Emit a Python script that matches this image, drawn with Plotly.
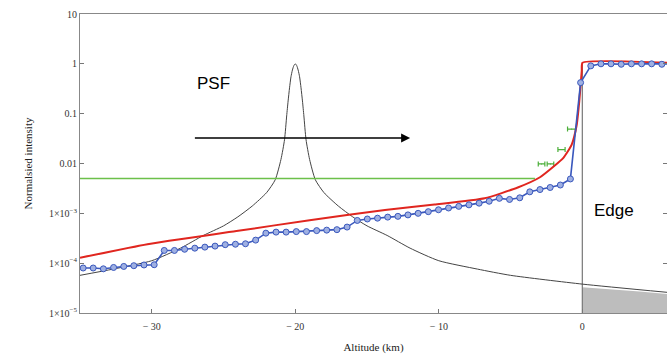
import plotly.graph_objects as go

# ---------------- data ----------------
psf_x = [-35, -32.7, -30, -28, -26.4, -25, -24, -23, -22, -21.4, -21.0, -20.75, -20.6, -20.5,
         -20.4, -20.3, -20.2, -20.1, -20.0, -19.9, -19.8, -19.7, -19.6, -19.5, -19.4, -19.25,
         -19.0, -18.6, -18.0, -17.0, -16.0, -15.0, -13.6, -12.0, -10.0, -7.3, -5.0, 0.0, 5.9]
psf_y = [5.7e-5, 7.6e-5, 1.12e-4, 2.0e-4, 3.6e-4, 5.6e-4, 8.5e-4, 1.4e-3, 2.6e-3, 4.7e-3, 1.2e-2,
         3.0e-2, 9.0e-2, 0.18, 0.33, 0.55, 0.75, 0.92, 1.0, 0.92, 0.75, 0.55, 0.33, 0.18, 0.09,
         3.0e-2, 1.2e-2, 4.7e-3, 2.6e-3, 1.4e-3, 8.5e-4, 5.6e-4, 3.6e-4, 2.0e-4, 1.12e-4, 7.6e-5,
         5.7e-5, 3.8e-5, 2.6e-5]

model_x = [-35.0, -30.3, -24.1, -19.0, -13.75, -10.3, -6.8, -4.5, -2.95, -2.0, -1.32, -0.74,
           -0.39, -0.21, -0.04, 0.01, 5.9]
model_y = [1.28e-4, 2.4e-4, 4.4e-4, 7.3e-4, 1.17e-3, 1.5e-3, 2.0e-3, 3.3e-3, 5.3e-3, 8.7e-3,
           0.013, 0.024, 0.06, 0.18, 0.72, 1.05, 1.05]

meas_x = [-34.78, -34.08, -33.37, -32.66, -31.95, -31.25, -30.54, -29.83, -29.13, -28.42,
          -27.71, -27.00, -26.30, -25.59, -24.88, -24.17, -23.47, -22.76, -22.05, -21.34,
          -20.64, -19.93, -19.22, -18.51, -17.81, -17.10, -16.39, -15.68, -14.98, -14.27,
          -13.56, -12.85, -12.15, -11.44, -10.73, -10.02, -9.32, -8.61, -7.90, -7.19,
          -6.49, -5.78, -5.07, -4.36, -3.66, -2.95, -2.24, -1.53, -0.83, -0.12,
          0.59, 1.30, 2.00, 2.71, 3.42, 4.13, 4.83, 5.54, 6.25]
meas_y = [8.0e-5, 8.0e-5, 7.7e-5, 8.2e-5, 8.6e-5, 8.9e-5, 9.2e-5, 9.3e-5,
          1.8e-4, 1.8e-4, 1.9e-4, 2.0e-4, 2.1e-4, 2.2e-4, 2.35e-4, 2.4e-4, 2.45e-4, 2.9e-4,
          4.0e-4, 4.2e-4, 4.2e-4, 4.3e-4, 4.3e-4, 4.5e-4, 4.6e-4, 4.7e-4, 5.3e-4,
          7.2e-4, 7.7e-4, 8.0e-4, 8.4e-4, 8.7e-4, 9.3e-4, 1.0e-3, 1.08e-3, 1.18e-3, 1.28e-3,
          1.38e-3, 1.48e-3, 1.6e-3, 1.75e-3, 2.0e-3, 1.9e-3, 2.05e-3, 2.7e-3, 3.0e-3, 3.3e-3,
          3.7e-3, 4.9e-3,
          0.42, 0.91, 1.0, 1.0, 0.98, 1.0, 1.0, 1.0, 0.98, 1.0]

thresh_x = [-35, -3.3]
thresh_y = [0.005, 0.005]

cross_x = [-2.84, -2.22, -1.45, -0.75]
cross_y = [0.0098, 0.0098, 0.019, 0.049]
cross_err = [0.23, 0.23, 0.25, 0.28]

tail_x = [0.0, 2.0, 4.0, 5.9]
tail_y = [3.3e-5, 3.0e-5, 2.7e-5, 2.4e-5]
tail_base = [1e-6, 1e-6, 1e-6, 1e-6]

edge_x = [0, 0]
edge_y = [1e-5, 1.0]

x_ticks = [-30, -20, -10, 0]
x_ticktext = ["\u2212 30", "\u2212 20", "\u2212 10", "0"]
y_ticks = [1e-5, 1e-4, 1e-3, 0.01, 0.1, 1, 10]
y_ticktext = ["1\u00d710<sup>\u22125</sup>", "1\u00d710<sup>\u22124</sup>", "1\u00d710<sup>\u22123</sup>",
              "0.01", "0.1", "1", "10"]

# ---------------- figure ----------------
fig = go.Figure()

fig.add_trace(go.Scatter(x=tail_x, y=tail_base, mode="lines", line=dict(width=0),
                         showlegend=False, hoverinfo="skip"))
fig.add_trace(go.Scatter(x=tail_x, y=tail_y, mode="lines", line=dict(width=0),
                         fill="tonexty", fillcolor="#bdbdbd", showlegend=False))

fig.add_trace(go.Scatter(x=edge_x, y=edge_y, mode="lines",
                         line=dict(color="#777777", width=1.2), showlegend=False))

fig.add_trace(go.Scatter(x=psf_x, y=psf_y, mode="lines", line_shape="spline",
                         line=dict(color="#444444", width=1, smoothing=0.6), showlegend=False))

fig.add_trace(go.Scatter(x=thresh_x, y=thresh_y, mode="lines",
                         line=dict(color="#6cc04a", width=1.3), showlegend=False))

fig.add_trace(go.Scatter(x=cross_x, y=cross_y, mode="markers",
                         marker=dict(size=1, color="#4caf3a"),
                         error_x=dict(type="data", array=cross_err, width=2.5,
                                      thickness=1.2, color="#4caf3a"),
                         showlegend=False))

fig.add_trace(go.Scatter(x=model_x, y=model_y, mode="lines", line_shape="spline",
                         line=dict(color="#e0261f", width=2, smoothing=0.5), showlegend=False))

fig.add_trace(go.Scatter(x=meas_x, y=meas_y, mode="lines+markers",
                         line=dict(color="#3a58bd", width=1.6),
                         marker=dict(symbol="circle", size=6, color="#9fb0e2",
                                     line=dict(color="#3a58bd", width=1)),
                         showlegend=False))

tick_font = dict(family="Liberation Serif", size=10, color="#333333")

fig.update_xaxes(range=[-35, 5.9], tickvals=x_ticks, ticktext=x_ticktext,
                 ticks="inside", ticklen=4, tickcolor="#777777", ticklabelstandoff=4,
                 showline=True, linecolor="#888888", linewidth=1, mirror=True,
                 showgrid=False, zeroline=False, tickfont=tick_font,
                 title=dict(text="Altitude (km)", standoff=12,
                            font=dict(family="Liberation Serif", size=11, color="#222222")))
fig.update_yaxes(type="log", range=[-5, 1], tickvals=y_ticks, ticktext=y_ticktext,
                 ticks="inside", ticklen=4, tickcolor="#777777",
                 showline=True, linecolor="#888888", linewidth=1, mirror="ticks",
                 showgrid=False, zeroline=False, tickfont=tick_font,
                 title=dict(text="Normalsied intensity", standoff=14,
                            font=dict(family="Liberation Serif", size=11, color="#222222")))

fig.add_annotation(x=-12.0, y=-1.49, ax=-27.1, ay=-1.49, xref="x", yref="y",
                   axref="x", ayref="y", showarrow=True, arrowhead=2, arrowsize=1.2,
                   arrowwidth=1.5, arrowcolor="black", text="")
fig.add_annotation(x=-25.7, y=-0.39, xref="x", yref="y", text="PSF", showarrow=False,
                   font=dict(family="Liberation Sans", size=17, color="black"))
fig.add_annotation(x=2.2, y=-2.94, xref="x", yref="y", text="Edge", showarrow=False,
                   font=dict(family="Liberation Sans", size=17, color="black"))

fig.update_layout(width=667, height=354, margin=dict(l=80, r=0, t=14, b=41),
                  paper_bgcolor="white", plot_bgcolor="white", showlegend=False)

fig.write_html("out.html", config={"displayModeBar": False},
               post_script="document.body.style.margin='0';document.body.style.overflow='hidden';")
